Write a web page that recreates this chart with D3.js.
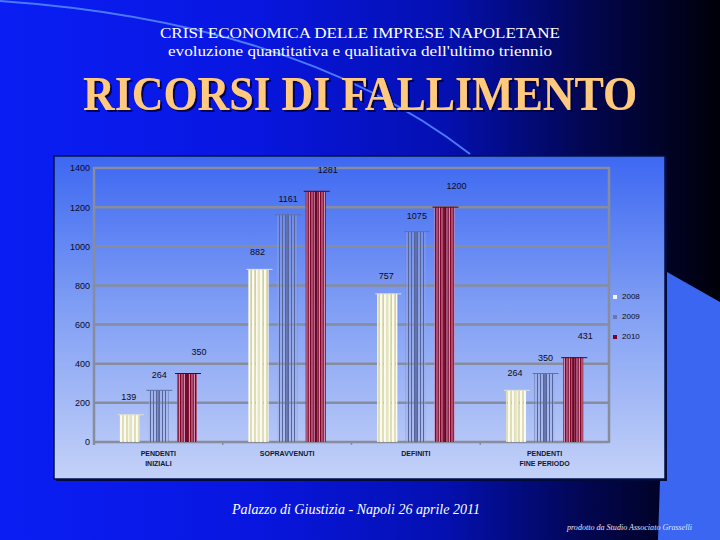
<!DOCTYPE html>
<html><head><meta charset="utf-8">
<script src="https://cdn.jsdelivr.net/npm/d3@7"></script>
<style>html,body{margin:0;padding:0;background:#000;}svg{display:block;}</style>
</head><body>
<svg id="c" width="720" height="540"></svg>
<script>
const categories = [["PENDENTI","INIZIALI"],["SOPRAVVENUTI"],["DEFINITI"],["PENDENTI","FINE PERIODO"]];
const years = ["2008","2009","2010"];
const values2008 = [139, 882, 757, 264];
const values2009 = [264, 1161, 1075, 350];
const values2010 = [350, 1281, 1200, 431];
const yTicks = [0,200,400,600,800,1000,1200,1400];

const series = [values2008, values2009, values2010];
const catKeys = categories.map(c => c.join(" "));

const svg = d3.select("#c");
const defs = svg.append("defs");

// slide background
const bg = defs.append("linearGradient").attr("id","bg").attr("x1","0").attr("x2","1").attr("y1","0").attr("y2","0");
[[0,"#0a1ef4"],[0.35,"#0816e0"],[0.62,"#0410b0"],[0.82,"#02064e"],[1,"#000008"]].forEach(s=>bg.append("stop").attr("offset",s[0]).attr("stop-color",s[1]));
svg.append("rect").attr("width",720).attr("height",540).attr("fill","url(#bg)");

// decorative arc
svg.append("path").attr("d","M0,1 Q300,22 470,154").attr("fill","none").attr("stroke","#4a78ff").attr("stroke-width",2);
// right light shape
svg.append("path").attr("d","M667,272 L720,302 L720,540 L658,540 Z").attr("fill","#3a66f2");

// title shadow filter
const f = defs.append("filter").attr("id","sh").attr("x","-5%").attr("y","-20%").attr("width","110%").attr("height","140%");
f.append("feDropShadow").attr("dx",2).attr("dy",2).attr("stdDeviation",0.6).attr("flood-color","#000040").attr("flood-opacity",0.9);

// titles
svg.append("text").attr("x",360).attr("y",38).attr("text-anchor","middle").attr("fill","#fff")
  .attr("font-family","Liberation Serif, serif").attr("font-size",15).attr("textLength",400).attr("lengthAdjust","spacingAndGlyphs")
  .text("CRISI ECONOMICA DELLE IMPRESE NAPOLETANE");
svg.append("text").attr("x",360).attr("y",56).attr("text-anchor","middle").attr("fill","#fff")
  .attr("font-family","Liberation Serif, serif").attr("font-size",14).attr("textLength",384).attr("lengthAdjust","spacingAndGlyphs")
  .text("evoluzione quantitativa e qualitativa dell'ultimo triennio");
svg.append("text").attr("x",360).attr("y",110).attr("text-anchor","middle").attr("fill","#ffc97e").attr("font-weight","bold")
  .attr("font-family","Liberation Serif, serif").attr("font-size",49).attr("textLength",554).attr("lengthAdjust","spacingAndGlyphs")
  .attr("filter","url(#sh)")
  .text("RICORSI DI FALLIMENTO");

// chart panel
const pg = defs.append("linearGradient").attr("id","pg").attr("x1","0").attr("x2","0").attr("y1","0").attr("y2","1");
[[0,"#3d68f2"],[0.45,"#7d9cf4"],[1,"#c4d2f8"]].forEach(s=>pg.append("stop").attr("offset",s[0]).attr("stop-color",s[1]));
svg.append("rect").attr("x",56).attr("y",158).attr("width",611).attr("height",323).attr("fill","#000a3a");
svg.append("rect").attr("x",54).attr("y",156).attr("width",611).attr("height",323).attr("fill","url(#pg)").attr("stroke","#00104a").attr("stroke-width",1.5);

// scales
const x0 = d3.scaleBand().domain(catKeys).range([94,609]).paddingInner(0.4).paddingOuter(0.2);
const x1 = d3.scaleBand().domain(years).range([0,x0.bandwidth()]).paddingInner(0.3);
const y = d3.scaleLinear().domain([0,1400]).range([442,168]);

// grid
const gridColor = "#878d9c";
svg.append("g").selectAll("line").data(yTicks).join("line")
  .attr("x1",94).attr("x2",609).attr("y1",d=>y(d)).attr("y2",d=>y(d))
  .attr("stroke",gridColor).attr("stroke-width",2.5);
svg.append("line").attr("x1",94).attr("x2",94).attr("y1",y(1400)-1).attr("y2",y(0)+3).attr("stroke",gridColor).attr("stroke-width",2.5);
svg.append("line").attr("x1",609).attr("x2",609).attr("y1",y(1400)-1).attr("y2",y(0)+1).attr("stroke",gridColor).attr("stroke-width",2.5);

// y axis labels
const yAxis = d3.axisLeft(y).tickValues(yTicks).tickSize(0).tickPadding(4).tickFormat(d3.format("d"));
const ga = svg.append("g").attr("transform","translate(90,0)").call(yAxis);
ga.select(".domain").remove();
ga.selectAll("text").attr("font-family","Liberation Sans, Arial, sans-serif").attr("font-size",9).attr("fill","#0a0a24").attr("x",0);

// x tick marks between groups
svg.append("g").selectAll("line").data(catKeys.slice(1)).join("line")
  .attr("x1",d=>x0(d)-x0.step()*x0.paddingInner()/2).attr("x2",d=>x0(d)-x0.step()*x0.paddingInner()/2)
  .attr("y1",y(0)).attr("y2",y(0)+3).attr("stroke",gridColor).attr("stroke-width",1.5);

// patterns
function stripePattern(id, stripes){
  const p = defs.append("pattern").attr("id",id).attr("patternUnits","userSpaceOnUse").attr("width",stripes.reduce((a,s)=>a+s[0],0)).attr("height",10);
  let xx = 0;
  stripes.forEach(s=>{ if(s[1]) p.append("rect").attr("x",xx).attr("y",0).attr("width",s[0]).attr("height",10).attr("fill",s[1]); xx+=s[0]; });
}
stripePattern("p2008",[[2,"#fafaf2"],[1,"#deddb6"],[1,null]]);
stripePattern("p2009",[[1,"#56649a"],[2,null]]);
stripePattern("p2010",[[1.5,"#780020"],[1,"#d896ba"]]);
const seriesColor = ["#e6e6c4","#5a6aa0","#6a001c"];
const capColor = ["#e0e0d0","#6070a8","#5a0018"];

const bars = svg.append("g");
series.forEach((vals, si) => {
  const yr = years[si];
  const g = bars.append("g");
  g.selectAll("rect.bg").data(vals).join("rect")
    .attr("x",(d,i)=>x0(catKeys[i])+x1(yr)).attr("width",x1.bandwidth())
    .attr("y",d=>y(d)).attr("height",d=>y(0)-y(d))
    .attr("fill", si===0 ? "#eeeed4" : (si===1 ? "#9aaadc" : "#c07090")).attr("opacity", si===0?0.6:0.35);
  g.selectAll("rect.fg").data(vals).join("rect")
    .attr("x",(d,i)=>x0(catKeys[i])+x1(yr)).attr("width",x1.bandwidth())
    .attr("y",d=>y(d)).attr("height",d=>y(0)-y(d))
    .attr("fill","url(#p"+yr+")");
  g.selectAll("rect.mid").data(vals).join("rect")
    .attr("x",(d,i)=>x0(catKeys[i])+x1(yr)+x1.bandwidth()*0.45).attr("width",2.5)
    .attr("y",d=>y(d)).attr("height",d=>y(0)-y(d))
    .attr("fill", seriesColor[si]).attr("opacity",0.85);
  g.selectAll("line").data(vals).join("line")
    .attr("x1",(d,i)=>x0(catKeys[i])+x1(yr)-2).attr("x2",(d,i)=>x0(catKeys[i])+x1(yr)+x1.bandwidth()+4)
    .attr("y1",d=>y(d)).attr("y2",d=>y(d)).attr("stroke",capColor[si]).attr("stroke-width",1);
});

// value labels (offset as in the original rendering)
const labelDx = [-1, 1, 12];
const labelDy = [17, 15, 21];
series.forEach((vals, si) => {
  const yr = years[si];
  svg.append("g").selectAll("text").data(vals).join("text")
    .attr("x",(d,i)=>x0(catKeys[i])+x1(yr)+x1.bandwidth()/2+labelDx[si])
    .attr("y",d=>y(d)-labelDy[si])
    .attr("text-anchor","middle").attr("dominant-baseline","middle")
    .attr("font-family","Liberation Sans, Arial, sans-serif").attr("font-size",9).attr("fill","#0a0a24")
    .text(d=>d);
});

// category labels
svg.append("g").selectAll("text").data(categories).join("text")
  .attr("x",(d,i)=>x0(catKeys[i])+x0.bandwidth()/2).attr("y",456)
  .attr("text-anchor","middle").attr("font-family","Liberation Sans, Arial, sans-serif").attr("font-size",7).attr("font-weight","bold").attr("fill","#101830")
  .each(function(d){
    const t = d3.select(this);
    d.forEach((line,li)=>t.append("tspan").attr("x",t.attr("x")).attr("dy",li===0?0:9.5).text(line));
  });

// legend
const lg = svg.append("g").selectAll("g").data(years).join("g").attr("transform",(d,i)=>`translate(613,${297+i*20})`);
lg.append("rect").attr("x",0).attr("y",-2).attr("width",4).attr("height",4).attr("fill",(d,i)=>["#f4f6ff","#6876b2","#7a0028"][i]);
lg.append("text").attr("x",9).attr("y",0).attr("dominant-baseline","middle").attr("font-family","Liberation Sans, Arial, sans-serif").attr("font-size",8).attr("fill","#0a0a24").text(d=>d);

// footer
svg.append("text").attr("x",232).attr("y",514).attr("fill","#fff").attr("font-family","Liberation Serif, serif").attr("font-style","italic")
  .attr("font-size",15).attr("textLength",248).attr("lengthAdjust","spacingAndGlyphs").text("Palazzo di Giustizia - Napoli 26 aprile 2011");
svg.append("text").attr("x",567).attr("y",530).attr("fill","#e0e4ff").attr("font-family","Liberation Serif, serif").attr("font-style","italic")
  .attr("font-size",8).attr("textLength",125).attr("lengthAdjust","spacingAndGlyphs").text("prodotto da Studio Associato Grasselli");
</script>
</body></html>
